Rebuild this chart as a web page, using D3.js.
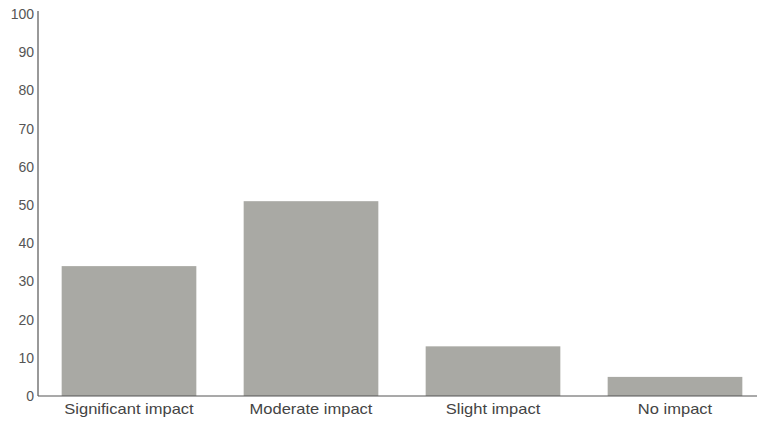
<!DOCTYPE html>
<html><head><meta charset="utf-8">
<script src="https://cdn.jsdelivr.net/npm/d3@7"></script>
<style>body{margin:0;background:#fff;}svg{display:block;}</style>
</head><body>
<svg id="c" width="759" height="425"></svg>
<script>
const categories = ["Significant impact", "Moderate impact", "Slight impact", "No impact"];
const values = [34, 51, 13, 5];
const yTicks = [0, 10, 20, 30, 40, 50, 60, 70, 80, 90, 100];

const svg = d3.select("#c");
const x = d3.scaleBand().domain(categories).range([38, 766]).paddingInner(0.26).paddingOuter(0.13);
const y = d3.scaleLinear().domain([0, 100]).range([396, 14]);

svg.selectAll("rect.bar").data(values).join("rect")
  .attr("class", "bar")
  .attr("x", (d, i) => x(categories[i]))
  .attr("width", x.bandwidth())
  .attr("y", d => y(d))
  .attr("height", d => y(0) - y(d))
  .attr("fill", "#a9a9a4");

// y axis
const yAxis = svg.append("g").attr("transform", "translate(38,0)")
  .call(d3.axisLeft(y).tickValues(yTicks).tickSize(0).tickPadding(4));
yAxis.select(".domain").remove();
yAxis.selectAll("text").attr("fill", "#555").style("font-family", "Liberation Sans, Arial, sans-serif").style("font-size", "14px");
svg.append("line").attr("x1", 38).attr("x2", 38).attr("y1", 11).attr("y2", y(0))
  .attr("stroke", "#555").attr("stroke-width", 1.2);

// x axis
const xAxis = svg.append("g").attr("transform", `translate(0,${y(0)})`)
  .call(d3.axisBottom(x).tickSize(0).tickPadding(8));
xAxis.select(".domain").remove();
xAxis.selectAll("text").attr("fill", "#444")
  .style("font-family", "Liberation Sans, Arial, sans-serif").style("font-size", "14px")
  .attr("transform", "scale(1.18,1)");
svg.append("line").attr("x1", 38).attr("x2", 757).attr("y1", y(0)).attr("y2", y(0))
  .attr("stroke", "#555").attr("stroke-width", 1.2);
</script>
</body></html>
